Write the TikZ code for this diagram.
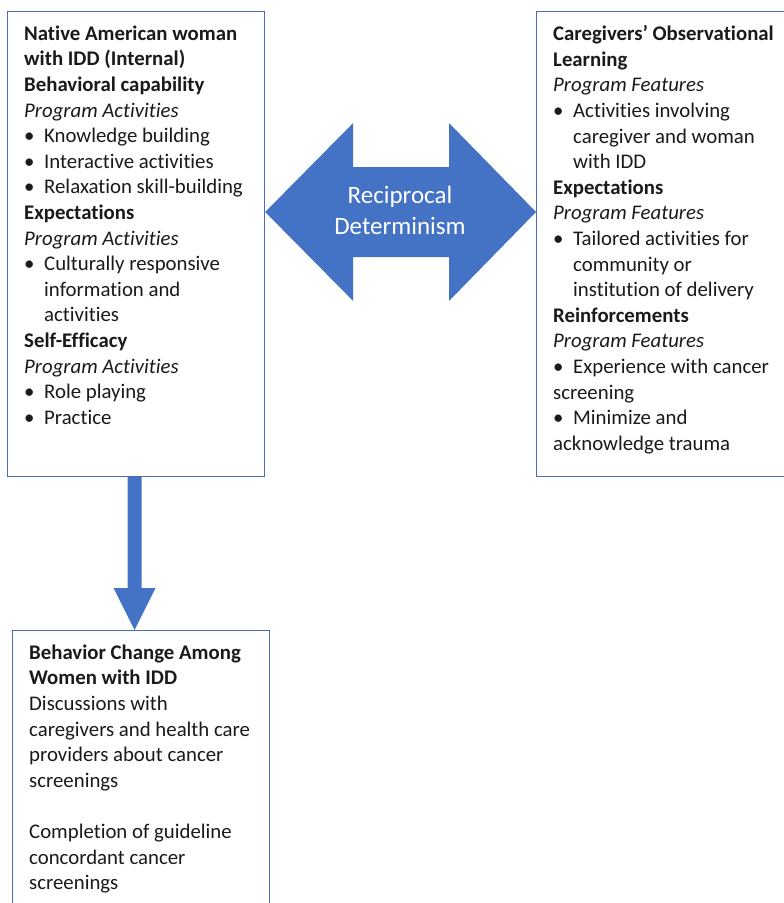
\documentclass[tikz,border=0pt]{standalone}
\usepackage{fontspec}
\setmainfont{Carlito}[Ligatures=NoCommon]
\usetikzlibrary{calc}
\definecolor{wblue}{HTML}{4472C4}
\definecolor{edgeblue}{HTML}{4A6EB4}
\definecolor{txtcol}{HTML}{1A1A1A}
\newcommand{\bl}[1]{\makebox[20pt][l]{\textbullet}#1}
\newcommand{\cl}[1]{\hspace*{20pt}#1}
\tikzset{
  box/.style={draw=edgeblue, line width=1.2pt, inner sep=0pt, anchor=north west},
  boxtext/.style={font=\fontsize{20.8}{25.6}\selectfont, align=left, inner sep=0pt, text=txtcol, anchor=north west},
  arrowfill/.style={fill=wblue}
}
\begin{document}
\begin{tikzpicture}[x=1pt,y=-1pt]
\useasboundingbox (0,0) rectangle (784,903);
\fill[white] (0,0) rectangle (784,903);

\node[box, minimum width=257pt, minimum height=465pt] (L) at (7,11) {};
\node[box, minimum width=254pt, minimum height=465pt] (R) at (536,11) {};
\node[box, minimum width=257pt, minimum height=290pt] (B) at (12,630) {};

\node[boxtext] (Lt) at (24,22.1) {\strut\textbf{Native American woman}\\
\textbf{with IDD (Internal)}\\
\textbf{Behavioral capability}\\
\textit{Program Activities}\\
\bl{Knowledge building}\\
\bl{Interactive activities}\\
\bl{Relaxation skill-building}\\
\textbf{Expectations}\\
\textit{Program Activities}\\
\bl{Culturally responsive}\\
\cl{information and}\\
\cl{activities}\\
\textbf{Self-Efficacy}\\
\textit{Program Activities}\\
\bl{Role playing}\\
\bl{Practice}};

\node[boxtext] (Rt) at (553,22.6) {\strut\textbf{Caregivers’ Observational}\\
\textbf{Learning}\\
\textit{Program Features}\\
\bl{Activities involving}\\
\cl{caregiver and woman}\\
\cl{with IDD}\\
\textbf{Expectations}\\
\textit{Program Features}\\
\bl{Tailored activities for}\\
\cl{community or}\\
\cl{institution of delivery}\\
\textbf{Reinforcements}\\
\textit{Program Features}\\
\bl{Experience with cancer}\\
screening\\
\bl{Minimize and}\\
acknowledge trauma};

\node[boxtext] (Bt) at (29,641.1) {\strut\textbf{Behavior Change Among}\\
\textbf{Women with IDD}\\
Discussions with\\
caregivers and health care\\
providers about cancer\\
screenings\\
\mbox{}\\
Completion of guideline\\
concordant cancer\\
screenings};

% reciprocal double arrow
\coordinate (lt) at ($(L.north east)+(0,201)$);
\coordinate (rt) at ($(R.north west)+(0,201)$);
\fill[arrowfill] (lt) -- ++(88,-89) -- ++(0,44) -- ($(rt)+(-87,-45)$) -- ++(0,-44) -- (rt)
  -- ++(-87,89) -- ++(0,-44) -- ($(lt)+(88,45)$) -- ++(0,44) -- cycle;
\node[text=white, font=\fontsize{25}{31}\selectfont, align=center, inner sep=0pt] (RD) at (400,210) {Reciprocal\\Determinism};

% down arrow
\coordinate (ds) at ($(L.south)+(-1.5,0)$);
\coordinate (de) at (ds |- B.north);
\fill[arrowfill] ($(ds)+(-7,0)$) -- ($(de)+(-7,-42)$) -- ($(de)+(-21,-42)$) -- (de)
  -- ($(de)+(21,-42)$) -- ($(de)+(7,-42)$) -- ($(ds)+(7,0)$) -- cycle;
\end{tikzpicture}
\end{document}
